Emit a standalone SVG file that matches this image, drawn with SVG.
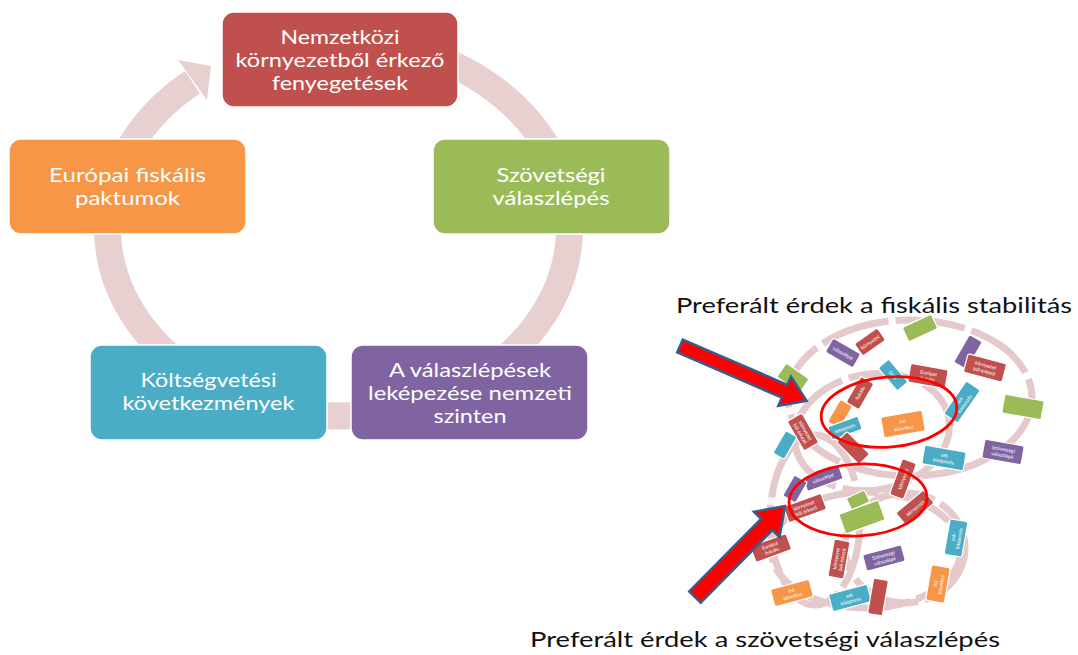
<svg xmlns="http://www.w3.org/2000/svg" width="1078" height="655" viewBox="0 0 1078 655">
<defs>
<style>
.band{fill:none;stroke:#e8d0d1;stroke-width:27}
.head{fill:#e8d0d1}
.box{stroke:#fff;stroke-width:1.5}
.t{font-family:Lato,"Liberation Sans",sans-serif;font-size:20px;fill:#fff;text-anchor:middle}
.ring{fill:none;stroke:#e4cacb;stroke-width:7;stroke-dasharray:70 7}
.sb{stroke:#fff;stroke-width:1.2}
.st{font-family:Lato,"Liberation Sans",sans-serif;font-size:5px;fill:#fff;text-anchor:middle}
.rell{fill:none;stroke:#ff0000;stroke-width:2.8}
.arr{fill:#ff0000;stroke:#3b5b8e;stroke-width:2.5;stroke-linejoin:miter}
.cap{font-family:Lato,"Liberation Sans",sans-serif;font-size:22px;fill:#111}
.r{fill:#c0504d}.o{fill:#f79646}.g{fill:#9bbb59}.c{fill:#4bacc6}.p{fill:#8064a2}
</style>
</defs>
<rect width="1078" height="655" fill="#fff"/>

<g id="connectors">
<path class="band" d="M398.3,46.4 A231,188 0 1 1 192.5,82.3"/>
<polygon class="head" points="178,60 211,66 207,100"/>
</g>

<g id="node-top">
<rect class="box r" x="222" y="12" width="236" height="95" rx="12"/>
<text class="t" x="340" y="43.5" textLength="119" lengthAdjust="spacingAndGlyphs">Nemzetközi</text>
<text class="t" x="340" y="66.5" textLength="209" lengthAdjust="spacingAndGlyphs">környezetből érkező</text>
<text class="t" x="340" y="89.5" textLength="136" lengthAdjust="spacingAndGlyphs">fenyegetések</text>
</g>
<g id="node-right">
<rect class="box g" x="433" y="139" width="237" height="95" rx="12"/>
<text class="t" x="551" y="182" textLength="109" lengthAdjust="spacingAndGlyphs">Szövetségi</text>
<text class="t" x="551" y="205" textLength="117" lengthAdjust="spacingAndGlyphs">válaszlépés</text>
</g>
<g id="node-bottom-right">
<rect class="box p" x="351" y="345" width="237" height="95" rx="12"/>
<text class="t" x="470" y="376.5" textLength="162" lengthAdjust="spacingAndGlyphs">A válaszlépések</text>
<text class="t" x="470" y="399.5" textLength="204" lengthAdjust="spacingAndGlyphs">leképezése nemzeti</text>
<text class="t" x="470" y="422.5" textLength="73" lengthAdjust="spacingAndGlyphs">szinten</text>
</g>
<g id="node-bottom-left">
<rect class="box c" x="90" y="345" width="237" height="95" rx="12"/>
<text class="t" x="208.5" y="387" textLength="136" lengthAdjust="spacingAndGlyphs">Költségvetési</text>
<text class="t" x="208.5" y="410" textLength="172" lengthAdjust="spacingAndGlyphs">következmények</text>
</g>
<g id="node-left">
<rect class="box o" x="9" y="139" width="237" height="95" rx="12"/>
<text class="t" x="127.5" y="182" textLength="157" lengthAdjust="spacingAndGlyphs">Európai fiskális</text>
<text class="t" x="127.5" y="205" textLength="105" lengthAdjust="spacingAndGlyphs">paktumok</text>
</g>

<g id="collage">
<ellipse class="ring" cx="910" cy="398" rx="122" ry="78"/>
<ellipse class="ring" cx="872" cy="432" rx="78" ry="58" transform="rotate(-10 872 432)"/>
<ellipse class="ring" cx="866" cy="550" rx="95" ry="58"/>
<ellipse class="ring" cx="905" cy="548" rx="60" ry="55"/>
<ellipse class="ring" cx="815" cy="520" rx="45" ry="85"/>

<g transform="translate(920,328) rotate(-25)"><rect class="sb g" x="-16" y="-8" width="32" height="16" rx="2"/></g>
<g transform="translate(793,378) rotate(35)"><rect class="sb g" x="-14" y="-8.5" width="28" height="17" rx="2"/></g>
<g transform="translate(843,353) rotate(30)"><rect class="sb p" x="-16" y="-8" width="32" height="16" rx="2"/><text class="st" y="2">válaszlépé</text></g>
<g transform="translate(870,342) rotate(-35)"><rect class="sb r" x="-14" y="-7.5" width="28" height="15" rx="2"/><text class="st" y="2">környezet</text></g>
<g transform="translate(893,375) rotate(50)"><rect class="sb c" x="-15" y="-7" width="30" height="14" rx="2"/><text class="st" y="2">Szöv</text></g>
<g transform="translate(860,393) rotate(-60)"><rect class="sb r" x="-15" y="-7.5" width="30" height="15" rx="2"/><text class="st" y="2">fiskális</text></g>
<g transform="translate(928,376) rotate(10)"><rect class="sb r" x="-19" y="-9.5" width="38" height="19" rx="2"/><text class="st" y="-1">Európai</text><text class="st" y="5">fiskális</text></g>
<g transform="translate(840,414) rotate(-60)"><rect class="sb o" x="-13" y="-7" width="26" height="14" rx="2"/></g>
<g transform="translate(903,424) rotate(-10)"><rect class="sb o" x="-21" y="-10.5" width="42" height="21" rx="2"/><text class="st" y="-1">ési</text><text class="st" y="6">következ</text></g>
<g transform="translate(803,432) rotate(60)"><rect class="sb r" x="-17" y="-8.5" width="34" height="17" rx="2"/><text class="st" y="-1">környezet</text><text class="st" y="5">ből érkező</text></g>
<g transform="translate(785,445) rotate(-60)"><rect class="sb c" x="-13" y="-6.5" width="26" height="13" rx="2"/></g>
<g transform="translate(845,428) rotate(-20)"><rect class="sb c" x="-16" y="-7" width="32" height="14" rx="2"/><text class="st" y="2">leképezés</text></g>
<g transform="translate(853,448) rotate(45)"><rect class="sb r" x="-16" y="-7.5" width="32" height="15" rx="2"/></g>
<g transform="translate(968,352) rotate(-60)"><rect class="sb p" x="-16" y="-7.5" width="32" height="15" rx="2"/></g>
<g transform="translate(985,368) rotate(15)"><rect class="sb r" x="-20" y="-9.5" width="40" height="19" rx="2"/><text class="st" y="-1">környezet</text><text class="st" y="5">ből érkező</text></g>
<g transform="translate(962,402) rotate(-55)"><rect class="sb c" x="-20" y="-8.5" width="40" height="17" rx="2"/><text class="st" y="-1">sek</text><text class="st" y="5">leképezés</text></g>
<g transform="translate(1023,407) rotate(10)"><rect class="sb g" x="-20" y="-9.5" width="40" height="19" rx="2"/></g>
<g transform="translate(1003,452) rotate(10)"><rect class="sb p" x="-20" y="-9.5" width="40" height="19" rx="2"/><text class="st" y="-1">Szövetségi</text><text class="st" y="5">válaszlépé</text></g>
<g transform="translate(944,458) rotate(10)"><rect class="sb c" x="-21" y="-9.5" width="42" height="19" rx="2"/><text class="st" y="-1">sek</text><text class="st" y="5">leképezés</text></g>

<g transform="translate(823,478) rotate(-20)"><rect class="sb p" x="-19" y="-7.5" width="38" height="15" rx="2"/><text class="st" y="2">válaszlépé</text></g>
<g transform="translate(795,489) rotate(-60)"><rect class="sb p" x="-12" y="-7.5" width="24" height="15" rx="2"/></g>
<g transform="translate(805,508) rotate(-20)"><rect class="sb r" x="-20" y="-8.5" width="40" height="17" rx="2"/><text class="st" y="-1">környezet</text><text class="st" y="5">ből érkező</text></g>
<g transform="translate(858,500) rotate(-25)"><rect class="sb g" x="-10" y="-6.5" width="20" height="13" rx="2"/></g>
<g transform="translate(862,517) rotate(-20)"><rect class="sb g" x="-21" y="-10.5" width="42" height="21" rx="2"/></g>
<g transform="translate(903,479) rotate(-70)"><rect class="sb r" x="-19" y="-7.5" width="38" height="15" rx="2"/><text class="st" y="2">környezet</text></g>
<g transform="translate(915,508) rotate(-40)"><rect class="sb r" x="-18" y="-8.5" width="36" height="17" rx="2"/><text class="st" y="2">környezet</text></g>
<g transform="translate(771,548) rotate(-20)"><rect class="sb r" x="-19" y="-8.5" width="38" height="17" rx="2"/><text class="st" y="-1">Európai</text><text class="st" y="5">fiskális</text></g>
<g transform="translate(839,559) rotate(-80)"><rect class="sb r" x="-19" y="-8" width="38" height="16" rx="2"/><text class="st" y="-1">környezet</text><text class="st" y="5">ből érkező</text></g>
<g transform="translate(884,558) rotate(-15)"><rect class="sb p" x="-20" y="-8.5" width="40" height="17" rx="2"/><text class="st" y="-1">Szövetségi</text><text class="st" y="5">válaszlépé</text></g>
<g transform="translate(792,593) rotate(-15)"><rect class="sb o" x="-20" y="-9" width="40" height="18" rx="2"/><text class="st" y="-1">ési</text><text class="st" y="5">következ</text></g>
<g transform="translate(850,598) rotate(-15)"><rect class="sb c" x="-20" y="-9" width="40" height="18" rx="2"/><text class="st" y="-1">sek</text><text class="st" y="5">leképezés</text></g>
<g transform="translate(878,597) rotate(-80)"><rect class="sb r" x="-18" y="-7.5" width="36" height="15" rx="2"/></g>
<g transform="translate(956,538) rotate(-80)"><rect class="sb c" x="-18" y="-9" width="36" height="18" rx="2"/><text class="st" y="-1">sek</text><text class="st" y="5">leképezés</text></g>
<g transform="translate(938,584) rotate(-80)"><rect class="sb o" x="-18" y="-9.5" width="36" height="19" rx="2"/><text class="st" y="-1">ési</text><text class="st" y="5">következ</text></g>

<ellipse class="rell" cx="889" cy="412" rx="68" ry="35" transform="rotate(-5 889 412)"/>
<ellipse class="rell" cx="858" cy="500" rx="69" ry="36" transform="rotate(-3 858 500)"/>

<polygon class="arr" points="0,-7 114,-7 114,-16 138,0 114,16 114,7 0,7" transform="translate(680,346) rotate(23.4)"/>
<polygon class="arr" points="0,-8 102,-8 102,-18 128,0 102,18 102,8 0,8" transform="translate(695,597) rotate(-45.3)"/>
</g>

<g id="captions">
<text class="cap" x="676" y="313" textLength="396" lengthAdjust="spacingAndGlyphs">Preferált érdek a fiskális stabilitás</text>
<text class="cap" x="530" y="647" textLength="470" lengthAdjust="spacingAndGlyphs">Preferált érdek a szövetségi válaszlépés</text>
</g>
</svg>
